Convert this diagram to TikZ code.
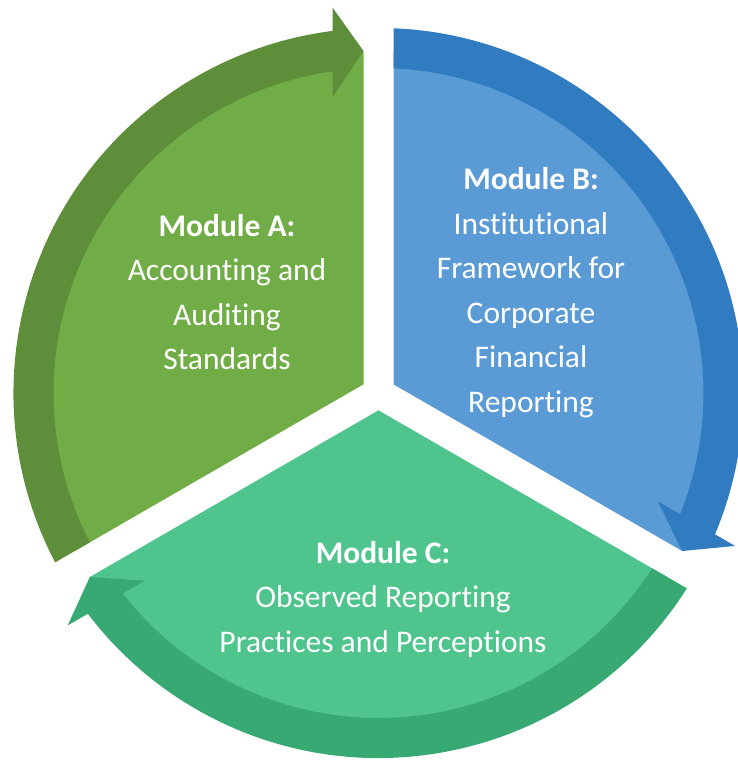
\documentclass[tikz,border=0pt]{standalone}
\usepackage{fontspec}
\setmainfont{Carlito}[Ligatures={NoCommon}]

\definecolor{fillA}{RGB}{112,173,71}
\definecolor{bandA}{RGB}{94,142,58}
\definecolor{fillB}{RGB}{91,155,213}
\definecolor{bandB}{RGB}{49,124,192}
\definecolor{fillC}{RGB}{79,196,141}
\definecolor{bandC}{RGB}{56,169,114}

% One segment of the cycle: #1 = angle where the arrow tip sits,
% #2 = inner fill colour, #3 = colour of the curved arrow band.
% The segment spans 120 degrees counter-clockwise from #1 and is
% pulled back 15pt from both dividing lines.
\newcommand\cyclesegment[3]{%
  \begin{scope}
    \clip[rotate=#1] (60:17.32) -- +(0:1000) -- +(60:2000) -- +(120:1000) -- cycle;
    \fill[#2] (0,0) circle[radius=342pt];
    \fill[#3, rotate=#1]
      (123:365pt) arc[start angle=123, end angle=7.22, radius=365pt]
      -- (385.3,45.85) -- (342,15) -- (296,45.85)
      -- (8.1:325pt) arc[start angle=8.1, end angle=123, radius=325pt]
      -- cycle;
  \end{scope}}

\tikzset{
  modtext/.style={text=white, align=center, inner sep=0pt,
    font=\fontsize{31.5}{44.5}\selectfont}
}

\begin{document}
\begin{tikzpicture}[x=1pt, y=1pt]
  \useasboundingbox (-378.5,-367) rectangle (358.5,393);

  \cyclesegment{90}{fillA}{bandA}
  \cyclesegment{-30}{fillB}{bandB}
  \cyclesegment{210}{fillC}{bandC}

  \node[modtext] (textA) at (-151.5,101)
    {\textbf{Module A:}\\Accounting and\\Auditing\\Standards};
  \node[modtext] (textB) at (152.5,100.5)
    {\textbf{Module B:}\\Institutional\\Framework for\\Corporate\\Financial\\Reporting};
  \node[modtext] (textC) at (4.5,-206)
    {\textbf{Module C:}\\Observed Reporting\\Practices and Perceptions};
\end{tikzpicture}
\end{document}
